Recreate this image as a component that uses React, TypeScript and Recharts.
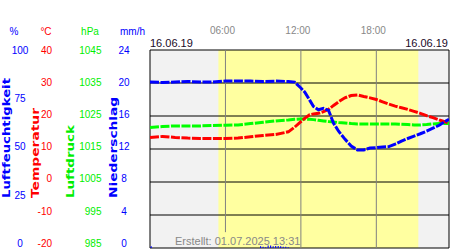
import React from 'react';
import {
  ComposedChart,
  Line,
  Bar,
  XAxis,
  YAxis,
  ReferenceArea,
  ReferenceLine
} from 'recharts';

// time of day in hours for the measured series
const hours = [
  0, 1, 2, 3, 4, 5, 6, 7, 8, 9, 10, 11, 11.5, 12, 12.3, 12.7, 13, 13.4, 13.8, 14.2,
  14.6, 15, 15.5, 16, 16.5, 17, 17.5, 18, 18.5, 19, 19.5, 20, 20.5, 21, 21.5, 22,
  22.5, 23, 23.5, 23.78
];
const humidity = [
  83.8, 83.6, 83.8, 84.1, 83.8, 83.8, 84.3, 84.4, 84.3, 84.1, 84.3, 84.1, 83.8, 80.8, 78.8,
  74.7, 71.5, 69.8, 70.5, 69.5, 63, 59, 55, 51.5, 49.5, 49.5, 50.5, 50.7, 51, 51.2, 52.5,
  54, 55.3, 56.5, 57.7, 59, 60.5, 62, 64, 65
];
const temperature = [
  13.5, 13.8, 13.5, 13.3, 13.2, 13.2, 13.2, 13.3, 13.7, 14.1, 14.4, 15.2, 16.6, 18.3, 19.3,
  20.4, 20.6, 20.8, 21.3, 22, 23.2, 24.3, 25.5, 26.2, 26.4, 25.9, 25.5, 25, 24.3, 23.6, 23,
  22.5, 22, 21.4, 20.8, 20.1, 19.5, 18.8, 18.2, 17.8
];
const pressure = [
  1021.5, 1021.8, 1022, 1022, 1022, 1022.1, 1022.2, 1022.3, 1022.7, 1023.1, 1023.5, 1023.8,
  1024, 1024.1, 1024.1, 1024, 1023.9, 1023.7, 1023.5, 1023.3, 1023.2, 1023, 1022.9, 1022.7,
  1022.6, 1022.6, 1022.6, 1022.6, 1022.6, 1022.6, 1022.6, 1022.5, 1022.4, 1022.3, 1022.3,
  1022.4, 1022.6, 1022.7, 1022.7, 1022.7
];
const rainHours = [0.1, 8.8, 9.0, 9.2, 9.4, 9.6, 9.8, 10.0, 10.2, 10.4, 10.6, 10.8, 11.0];
const rainValues = [0.2, 0.2, 0.15, 0.1, 0.3, 0.3, 0.2, 0.25, 0.25, 0.2, 0.15, 0.15, 0.1];

const humTicks = [0, 25, 50, 75, 100];
const tempTicks = [-20, -10, 0, 10, 20, 30, 40];
const pressTicks = [985, 995, 1005, 1015, 1025, 1035, 1045];
const rainTicks = [0, 4, 8, 12, 16, 20, 24];
const gridTemps = [-10, 0, 10, 20, 30];
const timeTicks = [6, 12, 18];
const timeLabels = ['06:00', '12:00', '18:00'];
const dateLabel = '16.06.19';
const createdLabel = 'Erstellt: 01.07.2025 13:31';
const dayEnd = 23.78;
const sunrise = 5.44;
const sunset = 21.34;

const FONT = '"Liberation Sans", Arial, sans-serif';
const PLOT_TOP = 50;

const rows = [
  ...hours.map((h, i) => ({ h, hum: humidity[i], temp: temperature[i], press: pressure[i] })),
  ...rainHours.map((h, i) => ({ h, rain: rainValues[i] }))
].sort((a, b) => a.h - b.h);

// the value labels sit on a slightly shorter ladder than the grid
const makeTick = (x: number, color: string, anchor: string) => (props: any) => (
  <text
    x={x}
    y={PLOT_TOP + (props.y - PLOT_TOP) * 0.976}
    dy={3.6}
    fill={color}
    fontSize={10}
    fontFamily={FONT}
    textAnchor={anchor}
  >
    {props.payload.value}
  </text>
);

const TimeTick = (props: any) => (
  <text x={props.x - 3} y={34} fill="#888" fontSize={10} fontFamily={FONT} textAnchor="middle">
    {timeLabels[timeTicks.indexOf(props.payload.value)]}
  </text>
);

const sideLabels = [
  { text: 'Luftfeuchtigkeit', x: 10, len: 120, color: '#0000ff' },
  { text: 'Temperatur', x: 39, len: 90, color: '#ff0000' },
  { text: 'Luftdruck', x: 74, len: 73, color: '#00ee00' },
  { text: 'Niederschlag', x: 116.5, len: 101, color: '#0000ff' }
];

const headers = [
  { text: '%', x: 14, color: '#0000ff' },
  { text: '°C', x: 46, color: '#ff0000' },
  { text: 'hPa', x: 90, color: '#00ee00' },
  { text: 'mm/h', x: 132.5, color: '#0000ff' }
];

export default function App() {
  return (
    <div style={{ position: 'absolute', left: 0, top: 0, width: 450, height: 250, background: '#fff' }}>
      <ComposedChart
        width={450}
        height={250}
        data={rows}
        margin={{ top: 30, right: 1, bottom: 2, left: 0 }}
      >
        <XAxis
          dataKey="h"
          type="number"
          orientation="top"
          domain={[0, dayEnd]}
          ticks={timeTicks}
          interval={0}
          height={20}
          axisLine={false}
          tickLine={false}
          tick={TimeTick}
          allowDataOverflow
        />
        <YAxis
          yAxisId="hum"
          type="number"
          domain={[0, 100]}
          ticks={humTicks}
          interval={0}
          width={37.5}
          axisLine={false}
          tickLine={false}
          tick={makeTick(20, '#0000ff', 'middle')}
        />
        <YAxis
          yAxisId="temp"
          type="number"
          domain={[-20, 40]}
          ticks={tempTicks}
          interval={0}
          width={37.5}
          axisLine={false}
          tickLine={false}
          tick={makeTick(52, '#ff0000', 'end')}
        />
        <YAxis
          yAxisId="press"
          type="number"
          domain={[985, 1045]}
          ticks={pressTicks}
          interval={0}
          width={37.5}
          axisLine={false}
          tickLine={false}
          tick={makeTick(101.5, '#00ee00', 'end')}
        />
        <YAxis
          yAxisId="rain"
          type="number"
          domain={[0, 24]}
          ticks={rainTicks}
          interval={0}
          width={37.5}
          axisLine={false}
          tickLine={false}
          tick={makeTick(124, '#0000ff', 'middle')}
        />

        <ReferenceArea yAxisId="hum" x1={0} x2={dayEnd} fill="#f2f2f2" fillOpacity={1} stroke="none" />
        <ReferenceArea yAxisId="hum" x1={sunrise} x2={sunset} fill="#ffffa0" fillOpacity={1} stroke="none" />
        {gridTemps.map((t) => (
          <ReferenceLine key={t} yAxisId="temp" y={t} stroke="#000" strokeWidth={1} />
        ))}
        <ReferenceLine
          yAxisId="hum"
          segment={[{ x: 6, y: 100 }, { x: 6, y: 8 }]}
          stroke="#808080"
          strokeWidth={1}
        />
        <ReferenceLine yAxisId="hum" x={12} stroke="#808080" strokeWidth={1} />
        <ReferenceLine yAxisId="hum" x={18} stroke="#808080" strokeWidth={1} />

        <Bar yAxisId="rain" dataKey="rain" fill="#0000ff" barSize={3} isAnimationActive={false} />
        <Line
          yAxisId="press"
          dataKey="press"
          type="linear"
          stroke="#00ff00"
          strokeWidth={3}
          strokeDasharray="9 1.5"
          dot={false}
          connectNulls
          isAnimationActive={false}
        />
        <Line
          yAxisId="temp"
          dataKey="temp"
          type="linear"
          stroke="#ff0000"
          strokeWidth={3}
          strokeDasharray="9 1.5"
          dot={false}
          connectNulls
          isAnimationActive={false}
        />
        <Line
          yAxisId="hum"
          dataKey="hum"
          type="linear"
          stroke="#0000ff"
          strokeWidth={3}
          strokeDasharray="9 1.5"
          dot={false}
          connectNulls
          isAnimationActive={false}
        />
        <ReferenceArea yAxisId="hum" x1={0} x2={dayEnd} fill="none" stroke="#000" strokeWidth={1} />
      </ComposedChart>

      <svg
        width={450}
        height={250}
        style={{ position: 'absolute', left: 0, top: 0, pointerEvents: 'none' }}
      >
        {headers.map((h) => (
          <text key={h.text} x={h.x} y={35} fill={h.color} fontSize={10} fontFamily={FONT} textAnchor="middle">
            {h.text}
          </text>
        ))}
        {sideLabels.map((l) => (
          <text
            key={l.text}
            x={l.x}
            y={198}
            transform={`rotate(-90 ${l.x} 198)`}
            fill={l.color}
            fontSize={10}
            fontWeight="bold"
            fontFamily='"DejaVu Sans", sans-serif'
            textLength={l.len}
            lengthAdjust="spacingAndGlyphs"
          >
            {l.text}
          </text>
        ))}
        <text x={150} y={47} fill="#1a0a28" fontSize={11} fontFamily={FONT}>
          {dateLabel}
        </text>
        <text x={448} y={47} fill="#1a0a28" fontSize={11} fontFamily={FONT} textAnchor="end">
          {dateLabel}
        </text>
        <text x={175} y={245} fill="#888" fontSize={11} fontFamily={FONT}>
          {createdLabel}
        </text>
      </svg>
    </div>
  );
}
